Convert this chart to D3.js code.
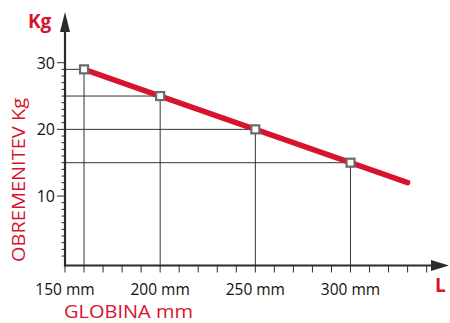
<!DOCTYPE html>
<html><head><meta charset="utf-8">
<script src="https://cdn.jsdelivr.net/npm/d3@7"></script>
<style>body{margin:0;background:#fff}svg{display:block}</style>
</head><body>
<script>
const depths = [160, 200, 250, 300];
const loads = [29, 25, 20, 15];
const lineEnd = {depth: 330, load: 12};
const xTickValues = [150, 200, 250, 300];
const xTickLabels = ["150 mm", "200 mm", "250 mm", "300 mm"];
const yTickValues = [10, 20, 30];

const W = 450, H = 323;
const red = "#d7132e", axisCol = "#2b2b2b";
const svg = d3.select("body").append("svg").attr("width", W).attr("height", H);

const x = d3.scaleLinear().domain([150, 300]).range([65, 350.5]);
const y = d3.scaleLinear().domain([0, 30]).range([262.7, 62.7]);
const axisY = 265.5;

// guide lines
const g = svg.append("g");
depths.forEach((d, i) => {
  g.append("line").attr("x1", x(150)).attr("x2", x(d)).attr("y1", y(loads[i])).attr("y2", y(loads[i]))
    .attr("stroke", "#333").attr("stroke-width", 1);
  g.append("line").attr("x1", x(d)).attr("x2", x(d)).attr("y1", y(loads[i])).attr("y2", axisY)
    .attr("stroke", "#333").attr("stroke-width", 1);
});

// y minor ticks
const yMinor = d3.range(1, 31);
svg.append("g").selectAll("line").data(yMinor).join("line")
  .attr("x1", d => yTickValues.includes(d) ? 57 : 61.5).attr("x2", 65)
  .attr("y1", d => y(d)).attr("y2", d => y(d))
  .attr("stroke", axisCol).attr("stroke-width", 1);

// x ticks
const xMinor = d3.range(150, 341, 10);
svg.append("g").selectAll("line").data(xMinor).join("line")
  .attr("x1", d => x(d)).attr("x2", d => x(d))
  .attr("y1", axisY).attr("y2", axisY + 7)
  .attr("stroke", axisCol).attr("stroke-width", 1);

// axes lines
svg.append("line").attr("x1", 65).attr("x2", 65).attr("y1", 28).attr("y2", axisY + 1)
  .attr("stroke", axisCol).attr("stroke-width", 2.2);
svg.append("line").attr("x1", 64).attr("x2", 436).attr("y1", axisY).attr("y2", axisY)
  .attr("stroke", axisCol).attr("stroke-width", 2.2);
// arrow heads
svg.append("path").attr("d", "M65,12 L70,32 L60,32 Z").attr("fill", axisCol);
svg.append("path").attr("d", `M449,${axisY} L431,${axisY-5.5} L431,${axisY+5.5} Z`).attr("fill", axisCol);

// y tick labels
svg.append("g").selectAll("text").data(yTickValues).join("text")
  .attr("x", 55).attr("y", d => y(d) + 6).attr("text-anchor", "end")
  .attr("font-family", "Open Sans, sans-serif").attr("font-size", 16).attr("fill", "#111")
  .text(d => d);

// x tick labels
svg.append("g").selectAll("text").data(xTickValues).join("text")
  .attr("x", d => x(d)).attr("y", 295).attr("text-anchor", "middle")
  .attr("font-family", "Open Sans, sans-serif").attr("font-size", 15.5).attr("fill", "#111")
  .text((d, i) => xTickLabels[i]);

// data line
const lineData = depths.map((d, i) => ({depth: d, load: loads[i]})).concat([lineEnd]);
svg.append("path").datum(lineData)
  .attr("d", d3.line().x(d => x(d.depth)).y(d => y(d.load)))
  .attr("fill", "none").attr("stroke", red).attr("stroke-width", 5.5).attr("stroke-linecap", "round");

// markers
svg.append("g").selectAll("rect").data(depths).join("rect")
  .attr("x", d => x(d) - 4).attr("y", (d, i) => y(loads[i]) - 4)
  .attr("width", 8).attr("height", 8)
  .attr("fill", "#fff").attr("stroke", "#6b6b6b").attr("stroke-width", 2.2);

// labels
svg.append("text").attr("x", 28).attr("y", 28).attr("font-family", "Open Sans, sans-serif")
  .attr("font-weight", "bold").attr("font-size", 19).attr("fill", red).text("Kg");
svg.append("text").attr("x", 435).attr("y", 292).attr("font-family", "Open Sans, sans-serif")
  .attr("font-weight", "bold").attr("font-size", 19).attr("fill", red).text("L");
svg.append("text").attr("transform", "translate(25,180) rotate(-90)").attr("text-anchor", "middle")
  .attr("font-family", "Open Sans, sans-serif").attr("font-size", 17.5).attr("fill", red)
  .attr("textLength", 164).attr("lengthAdjust", "spacingAndGlyphs")
  .text("OBREMENITEV Kg");
svg.append("text").attr("x", 64).attr("y", 318)
  .attr("font-family", "Open Sans, sans-serif").attr("font-size", 17.5).attr("fill", red)
  .attr("textLength", 129).attr("lengthAdjust", "spacingAndGlyphs")
  .text("GLOBINA mm");
</script>
</body></html>
